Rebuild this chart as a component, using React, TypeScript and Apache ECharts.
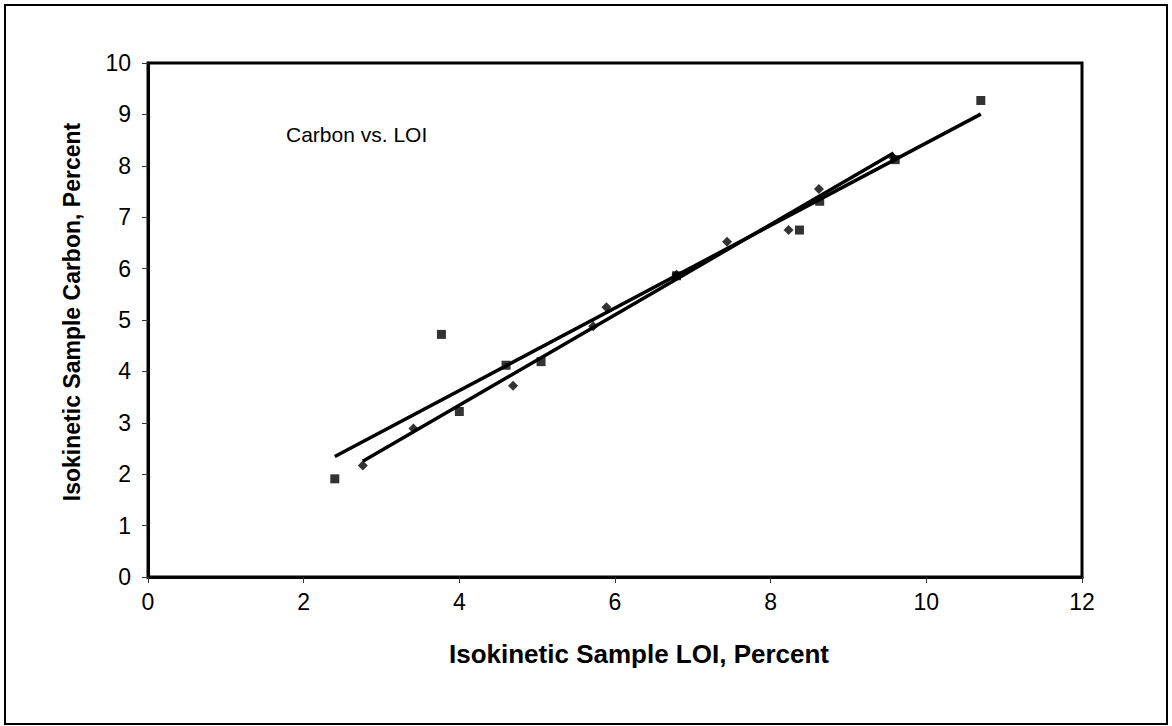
import React, { useEffect, useRef } from "react";
import * as echarts from "echarts";

// Square-marker series (x = LOI %, y = Carbon %)
const squareX = [2.4, 3.77, 4.0, 4.6, 5.05, 6.79, 8.37, 8.63, 9.6, 10.7];
const squareY = [1.91, 4.72, 3.22, 4.12, 4.19, 5.86, 6.75, 7.31, 8.12, 9.27];
// Diamond-marker series
const diamondX = [2.76, 3.41, 4.69, 5.72, 5.89, 6.79, 7.44, 8.23, 8.62, 9.58];
const diamondY = [2.17, 2.89, 3.72, 4.88, 5.25, 5.88, 6.52, 6.75, 7.55, 8.15];

const xTicks = [0, 2, 4, 6, 8, 10, 12];
const yTicks = [0, 1, 2, 3, 4, 5, 6, 7, 8, 9, 10];
const xTitle = "Isokinetic Sample LOI, Percent";
const yTitle = "Isokinetic Sample Carbon, Percent";
const note = "Carbon vs. LOI";

function fit(xs: number[], ys: number[]): number[][] {
  const n = xs.length;
  const mx = xs.reduce((a, b) => a + b, 0) / n;
  const my = ys.reduce((a, b) => a + b, 0) / n;
  let sxy = 0;
  let sxx = 0;
  for (let i = 0; i < n; i++) {
    sxy += (xs[i] - mx) * (ys[i] - my);
    sxx += (xs[i] - mx) * (xs[i] - mx);
  }
  const b = sxy / sxx;
  const a = my - b * mx;
  const x0 = Math.min(...xs);
  const x1 = Math.max(...xs);
  return [
    [x0, a + b * x0],
    [x1, a + b * x1],
  ];
}

const FONT = "'Liberation Sans', Arial, sans-serif";

export default function App() {
  const ref = useRef<HTMLDivElement>(null);
  useEffect(() => {
    document.body.style.margin = "0";
    const chart = echarts.init(ref.current!, undefined, { renderer: "svg" });
    const sq = squareX.map((x, i) => [x, squareY[i]]);
    const di = diamondX.map((x, i) => [x, diamondY[i]]);
    chart.setOption({
      animation: false,
      backgroundColor: "#ffffff",
      textStyle: { fontFamily: FONT },
      grid: {
        left: 148,
        top: 63,
        right: 90,
        bottom: 149,
        show: true,
        borderColor: "#000",
        borderWidth: 3,
        backgroundColor: "#fff",
      },
      xAxis: {
        type: "value",
        min: 0,
        max: 12,
        interval: 2,
        axisLine: { show: true, lineStyle: { color: "#000", width: 3 } },
        axisTick: { show: true, length: 6, lineStyle: { color: "#333", width: 1 } },
        axisLabel: {
          fontSize: 23,
          color: "#000",
          margin: 13,
          fontFamily: FONT,
          formatter: (v: number) => (xTicks.includes(v) ? String(v) : ""),
        },
        splitLine: { show: false },
      },
      yAxis: {
        type: "value",
        min: 0,
        max: 10,
        interval: 1,
        axisLine: { show: true, lineStyle: { color: "#000", width: 3 } },
        axisTick: { show: true, length: 6, lineStyle: { color: "#333", width: 1 } },
        axisLabel: {
          fontSize: 23,
          color: "#000",
          margin: 17,
          fontFamily: FONT,
          formatter: (v: number) => (yTicks.includes(v) ? String(v) : ""),
        },
        splitLine: { show: false },
      },
      series: [
        {
          type: "line",
          data: fit(squareX, squareY),
          symbol: "none",
          lineStyle: { color: "#000", width: 3.5 },
          z: 2,
        },
        {
          type: "line",
          data: fit(diamondX, diamondY),
          symbol: "none",
          lineStyle: { color: "#000", width: 3.5 },
          z: 2,
        },
        {
          type: "scatter",
          data: sq,
          symbol: "rect",
          symbolSize: 9,
          itemStyle: { color: "#000" },
          z: 3,
        },
        {
          type: "scatter",
          data: di,
          symbol: "diamond",
          symbolSize: 10,
          itemStyle: { color: "#000" },
          z: 3,
        },
      ],
      graphic: [
        {
          type: "rect",
          shape: { x: 5, y: 5, width: 1162, height: 719 },
          style: { fill: "none", stroke: "#000", lineWidth: 2 },
          silent: true,
          z: 0,
        },
        {
          type: "text",
          left: 286,
          top: 124,
          style: { text: note, fontSize: 21, fill: "#000", fontFamily: FONT },
          z: 10,
        },
        {
          type: "text",
          x: 639,
          y: 654,
          style: {
            text: xTitle,
            fontSize: 26,
            fontWeight: "bold",
            fill: "#000",
            fontFamily: FONT,
            align: "center",
            verticalAlign: "middle",
          },
          z: 10,
        },
        {
          type: "text",
          x: 72,
          y: 312,
          rotation: Math.PI / 2,
          style: {
            text: yTitle,
            fontSize: 23,
            fontWeight: "bold",
            fill: "#000",
            fontFamily: FONT,
            align: "center",
            verticalAlign: "middle",
          },
          z: 10,
        },
      ],
    });
    return () => chart.dispose();
  }, []);
  return <div ref={ref} style={{ width: 1172, height: 726 }} />;
}
